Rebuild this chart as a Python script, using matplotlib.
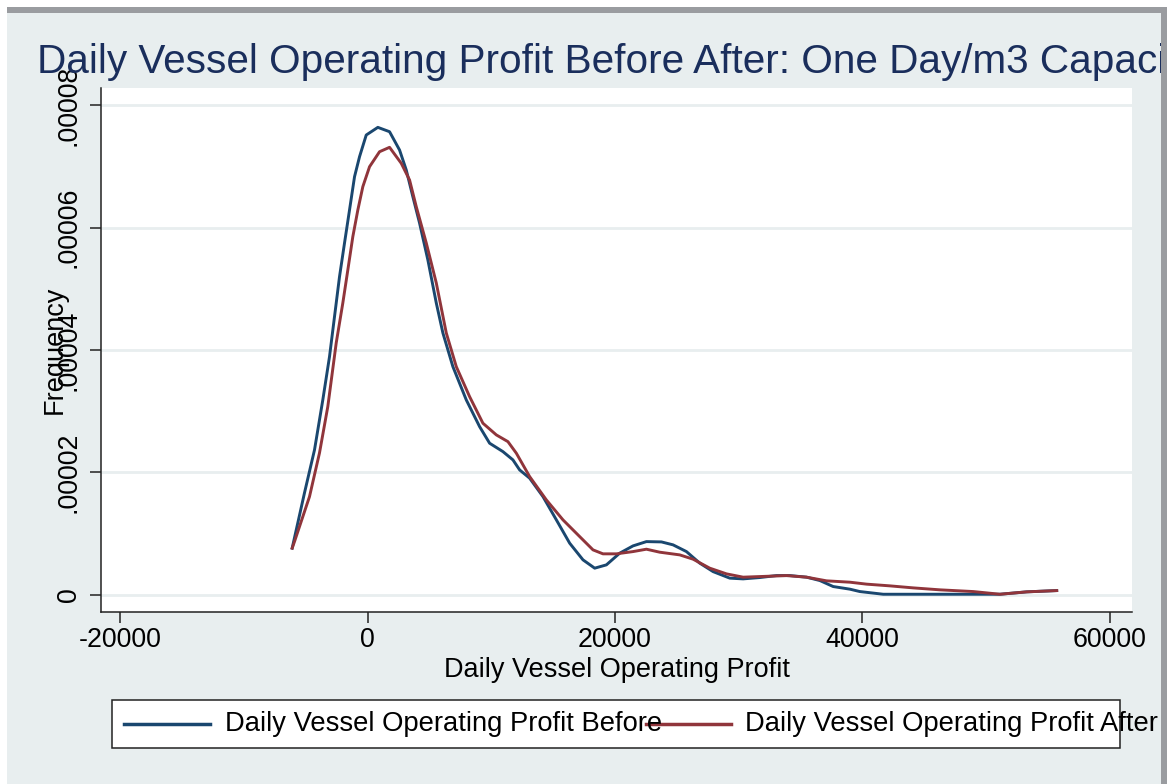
import numpy as np
import matplotlib.pyplot as plt
from matplotlib.patches import Rectangle
from matplotlib.lines import Line2D

plt.rcParams['font.family'] = ['Liberation Sans', 'DejaVu Sans']

# density curves
x_before = [-6090, -5095, -4286, -3615, -3073, -2669, -2264, -1860, -1456, -1051, -647,
            -105, 833, 1779, 2588, 3130, 3663, 4202, 4876, 5556, 6090, 6898, 7982,
            9057, 9866, 10942, 11750, 12292, 13101, 14177, 15260, 16336, 17411, 18357,
            19304, 20379, 21455, 22538, 23751, 24689, 25773, 26849, 27924, 29275,
            30350, 31701, 33051, 34127, 35477, 36553, 37629, 38980, 39788, 41673,
            51110, 53269, 55695]
y_before = [7.63e-6, 1.666e-5, 2.368e-5, 3.184e-5, 3.891e-5, 4.545e-5, 5.198e-5, 5.748e-5,
            6.287e-5, 6.831e-5, 7.157e-5, 7.512e-5, 7.637e-5, 7.566e-5, 7.267e-5, 6.94e-5,
            6.504e-5, 6.075e-5, 5.471e-5, 4.768e-5, 4.278e-5, 3.728e-5, 3.184e-5, 2.748e-5,
            2.477e-5, 2.34e-5, 2.205e-5, 2.041e-5, 1.906e-5, 1.605e-5, 1.225e-5, 8.44e-6,
            5.72e-6, 4.36e-6, 4.9e-6, 6.81e-6, 8.0e-6, 8.7e-6, 8.65e-6, 8.17e-6, 7.07e-6,
            5.18e-6, 3.8e-6, 2.73e-6, 2.61e-6, 2.83e-6, 3.15e-6, 3.15e-6, 2.89e-6, 2.34e-6,
            1.36e-6, 9.3e-7, 5.4e-7, 1e-7, 1e-7, 4.9e-7, 7.0e-7]

x_after = [-6090, -5903, -4690, -3882, -3211, -2531, -1997, -1593, -1189, -784, -380,
           162, 970, 1779, 2725, 3397, 3938, 4747, 5556, 6364, 7173, 8249, 9324, 10408,
           11346, 12025, 13101, 14451, 15794, 17144, 18220, 19029, 20113, 21455, 22538,
           23614, 25231, 26307, 27657, 29008, 30350, 31701, 33860, 35477, 37094, 38980,
           40330, 42214, 44098, 46258, 48951, 51110, 53269, 55695]
y_after = [7.63e-6, 8.7e-6, 1.605e-5, 2.319e-5, 3.075e-5, 4.115e-5, 4.768e-5, 5.307e-5,
           5.851e-5, 6.287e-5, 6.668e-5, 6.994e-5, 7.239e-5, 7.311e-5, 7.05e-5, 6.777e-5,
           6.341e-5, 5.748e-5, 5.095e-5, 4.278e-5, 3.728e-5, 3.238e-5, 2.804e-5, 2.613e-5,
           2.503e-5, 2.314e-5, 1.932e-5, 1.551e-5, 1.225e-5, 9.52e-6, 7.35e-6, 6.7e-6,
           6.7e-6, 7.07e-6, 7.46e-6, 6.97e-6, 6.53e-6, 5.83e-6, 4.36e-6, 3.43e-6, 2.89e-6,
           2.99e-6, 3.15e-6, 2.89e-6, 2.29e-6, 2.07e-6, 1.75e-6, 1.47e-6, 1.14e-6, 8.2e-7,
           5.4e-7, 1e-7, 4.9e-7, 7.0e-7]

xticks = [-20000, 0, 20000, 40000, 60000]
yticks = [0, 0.00002, 0.00004, 0.00006, 0.00008]
ylabels = ['0', '.00002', '.00004', '.00006', '.00008']

bg = '#e8eeef'
navy = '#1a476f'
maroon = '#90353b'

W, H = 1168, 784
fig = plt.figure(figsize=(W / 100, H / 100), dpi=100, facecolor=bg)
ax = fig.add_axes([101 / W, 1 - 612 / H, (1132 - 101) / W, (612 - 88) / H])
ax.set_facecolor('white')

ax.plot(x_before, y_before, color=navy, lw=2.1, zorder=3)
ax.plot(x_after, y_after, color=maroon, lw=2.1, zorder=3)

ax.set_xlim(-21540, 61780)
ax.set_ylim(-2.8e-6, 8.28e-5)
ax.set_xticks(xticks, labels=[str(v) for v in xticks])
ax.set_yticks(yticks, labels=ylabels)
for lab in ax.get_yticklabels():
    lab.set_rotation(90)
    lab.set_va('center')
ax.tick_params(axis='both', direction='out', length=8, width=1.1, color='#222222',
               labelsize=19.3)
ax.tick_params(axis='y', pad=6)
ax.tick_params(axis='x', pad=3)
ax.grid(axis='y', color='#e8eeef', lw=2)
ax.set_axisbelow(True)
for s in ['top', 'right']:
    ax.spines[s].set_visible(False)
for s in ['left', 'bottom']:
    ax.spines[s].set_color('#222222')
    ax.spines[s].set_linewidth(1.1)

ax.set_xlabel('Daily Vessel Operating Profit', fontsize=19.5)
ax.xaxis.set_label_coords(0.5, (612 - 670) / 524)
ax.xaxis.label.set_va('center')
ax.set_ylabel('Frequency', fontsize=19.5)
ax.yaxis.set_label_coords((55 - 101) / 1031, 0.5)
ax.yaxis.label.set_va('center')

fig.text(37 / W, 1 - 62 / H, 'Daily Vessel Operating Profit Before After: One Day/m3 Capacity',
         fontsize=29.2, color='#1a2e5c', ha='left', va='center')

# legend box drawn by hand so the text can spill over like in the original
fig.patches.append(Rectangle((112 / W, 1 - 748 / H), (1120 - 112) / W, 48 / H,
                             transform=fig.transFigure, facecolor='white',
                             edgecolor='#222222', lw=1.1, zorder=1))
ly = 1 - 724 / H
fig.add_artist(Line2D([124 / W, 210 / W], [ly, ly], color=navy, lw=2.5))
fig.add_artist(Line2D([646 / W, 731 / W], [ly, ly], color=maroon, lw=2.5))
fig.text(225 / W, ly, 'Daily Vessel Operating Profit Before', fontsize=19.7, va='center')
fig.text(745 / W, ly, 'Daily Vessel Operating Profit After', fontsize=19.7, va='center')

# outer frame
fig.patches.append(Rectangle((0, 1 - 13 / H), 1, 6 / H, transform=fig.transFigure,
                             facecolor='#9a9ca0', lw=0, zorder=10))
fig.patches.append(Rectangle((0, 1 - 7 / H), 1, 7 / H, transform=fig.transFigure,
                             facecolor='white', lw=0, zorder=10))
fig.patches.append(Rectangle((0, 0), 7 / W, 1, transform=fig.transFigure,
                             facecolor='white', lw=0, zorder=10))
fig.patches.append(Rectangle((1161 / W, 0), 6 / W, 1 - 7 / H, transform=fig.transFigure,
                             facecolor='#9a9ca0', lw=0, zorder=10))
fig.patches.append(Rectangle((1167 / W, 0), 1 / W, 1, transform=fig.transFigure,
                             facecolor='white', lw=0, zorder=10))

fig.savefig('out.png', dpi=100, facecolor=bg)
